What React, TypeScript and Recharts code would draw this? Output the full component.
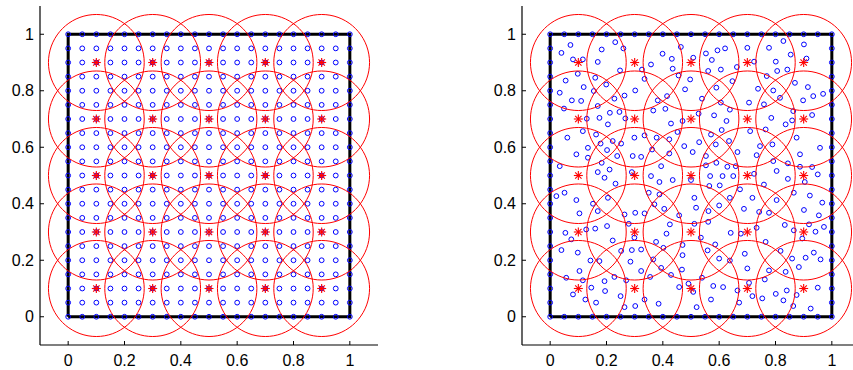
import React from 'react';
import { ScatterChart, Scatter, XAxis, YAxis } from 'recharts';

// ---------- data ----------
const tickValues = [0, 0.2, 0.4, 0.6, 0.8, 1];
const axisDomain: [number, number] = [-0.1, 1.1];
const gridCoords = [0, 0.05, 0.1, 0.15, 0.2, 0.25, 0.3, 0.35, 0.4, 0.45, 0.5, 0.55, 0.6, 0.65, 0.7, 0.75, 0.8, 0.85, 0.9, 0.95, 1];
const centerCoords = [0.1, 0.3, 0.5, 0.7, 0.9];
const coverRadius = 0.17;
const squareCorners = [
  { x: 0, y: 0 }, { x: 1, y: 0 }, { x: 1, y: 1 }, { x: 0, y: 1 }, { x: 0, y: 0 },
];

// scattered nodes of the right panel, by band
const nodesTopBand: [number, number][] = [
  [0.072, 0.962], [0.040, 0.934], [0.081, 0.911], [0.116, 0.911], [0.183, 0.946], [0.231, 0.972], [0.260, 0.950], [0.169, 0.902], [0.098, 0.860], [0.055, 0.836], [0.119, 0.813], [0.160, 0.846], [0.248, 0.872], [0.199, 0.822], [0.034, 0.793], [0.077, 0.766], [0.110, 0.764], [0.155, 0.799], [0.228, 0.772], [0.264, 0.783], [0.302, 0.801], [0.049, 0.737], [0.169, 0.746], [0.212, 0.722], [0.246, 0.725], [0.130, 0.701], [0.175, 0.704], [0.205, 0.681], [0.267, 0.702],
  [0.464, 0.955], [0.399, 0.931], [0.432, 0.913], [0.358, 0.893], [0.435, 0.878], [0.508, 0.917], [0.553, 0.932], [0.574, 0.909], [0.594, 0.943], [0.621, 0.950], [0.561, 0.870], [0.606, 0.875], [0.663, 0.884], [0.647, 0.834], [0.590, 0.811], [0.335, 0.842], [0.326, 0.875], [0.456, 0.854], [0.497, 0.840], [0.479, 0.805], [0.415, 0.781], [0.382, 0.766], [0.409, 0.736], [0.366, 0.730], [0.539, 0.772], [0.606, 0.758], [0.638, 0.733], [0.582, 0.713], [0.626, 0.693], [0.470, 0.693], [0.429, 0.684], [0.527, 0.719],
  [0.700, 0.952], [0.777, 0.952], [0.828, 0.976], [0.901, 0.964], [0.854, 0.928], [0.801, 0.903], [0.724, 0.903], [0.910, 0.914], [0.806, 0.870], [0.842, 0.875], [0.769, 0.852], [0.738, 0.807], [0.792, 0.801], [0.869, 0.828], [0.915, 0.813], [0.934, 0.781], [0.969, 0.789], [0.898, 0.766], [0.706, 0.758], [0.759, 0.752], [0.816, 0.775], [0.863, 0.728], [0.930, 0.714], [0.785, 0.704], [0.836, 0.681], [0.859, 0.695],
];
const nodesMiddleBand: [number, number][] = [
  [0.061, 0.634], [0.116, 0.657], [0.163, 0.645], [0.134, 0.598], [0.179, 0.613], [0.222, 0.622], [0.252, 0.613], [0.299, 0.634], [0.202, 0.590], [0.093, 0.575], [0.134, 0.563], [0.034, 0.533], [0.183, 0.545], [0.238, 0.569], [0.211, 0.521], [0.169, 0.512], [0.193, 0.492], [0.293, 0.569], [0.290, 0.512], [0.232, 0.471], [0.051, 0.439], [0.093, 0.413], [0.022, 0.427], [0.152, 0.400], [0.205, 0.421], [0.104, 0.366], [0.169, 0.374], [0.264, 0.362], [0.302, 0.368],
  [0.335, 0.642], [0.378, 0.634], [0.423, 0.628], [0.452, 0.654], [0.609, 0.661], [0.571, 0.645], [0.588, 0.610], [0.635, 0.622], [0.665, 0.583], [0.362, 0.592], [0.423, 0.578], [0.323, 0.566], [0.394, 0.533], [0.476, 0.604], [0.529, 0.618], [0.506, 0.583], [0.553, 0.569], [0.553, 0.536], [0.590, 0.545], [0.629, 0.531], [0.659, 0.533], [0.612, 0.498], [0.650, 0.498], [0.568, 0.498], [0.358, 0.498], [0.388, 0.477], [0.435, 0.484], [0.500, 0.484], [0.565, 0.463], [0.602, 0.465], [0.350, 0.439], [0.388, 0.433], [0.370, 0.398], [0.405, 0.382], [0.512, 0.421], [0.518, 0.386], [0.458, 0.359], [0.562, 0.374], [0.600, 0.394], [0.638, 0.421], [0.335, 0.366],
  [0.710, 0.657], [0.765, 0.663], [0.875, 0.634], [0.789, 0.610], [0.745, 0.604], [0.733, 0.572], [0.792, 0.551], [0.844, 0.543], [0.887, 0.575], [0.958, 0.598], [0.887, 0.531], [0.930, 0.530], [0.724, 0.506], [0.804, 0.516], [0.844, 0.488], [0.904, 0.477], [0.950, 0.504], [0.759, 0.468], [0.674, 0.451], [0.718, 0.421], [0.804, 0.413], [0.865, 0.439], [0.922, 0.429], [0.966, 0.404], [0.688, 0.382], [0.742, 0.371], [0.777, 0.368], [0.901, 0.378], [0.954, 0.359],
];
const nodesBottomBand: [number, number][] = [
  [0.054, 0.297], [0.075, 0.274], [0.128, 0.309], [0.160, 0.312], [0.202, 0.321], [0.279, 0.329], [0.299, 0.280], [0.222, 0.270], [0.040, 0.236], [0.098, 0.227], [0.252, 0.233], [0.290, 0.236], [0.323, 0.238], [0.143, 0.199], [0.175, 0.197], [0.285, 0.195], [0.323, 0.162], [0.104, 0.162], [0.057, 0.138], [0.116, 0.129], [0.193, 0.126], [0.228, 0.141], [0.270, 0.129], [0.081, 0.079], [0.146, 0.103], [0.195, 0.091], [0.250, 0.073], [0.125, 0.061], [0.163, 0.050], [0.264, 0.034], [0.302, 0.038],
  [0.425, 0.327], [0.512, 0.329], [0.561, 0.336], [0.413, 0.294], [0.376, 0.265], [0.402, 0.244], [0.535, 0.280], [0.586, 0.256], [0.641, 0.297], [0.470, 0.254], [0.559, 0.235], [0.470, 0.218], [0.600, 0.206], [0.638, 0.199], [0.366, 0.203], [0.394, 0.173], [0.468, 0.167], [0.429, 0.148], [0.355, 0.141], [0.539, 0.138], [0.491, 0.117], [0.458, 0.105], [0.508, 0.088], [0.579, 0.109], [0.614, 0.105], [0.665, 0.093], [0.571, 0.061], [0.335, 0.061], [0.385, 0.046], [0.520, 0.034],
  [0.677, 0.294], [0.733, 0.315], [0.833, 0.325], [0.865, 0.306], [0.919, 0.327], [0.942, 0.301], [0.972, 0.318], [0.895, 0.277], [0.765, 0.265], [0.691, 0.223], [0.818, 0.233], [0.859, 0.206], [0.907, 0.209], [0.936, 0.227], [0.960, 0.203], [0.700, 0.171], [0.777, 0.164], [0.836, 0.159], [0.883, 0.176], [0.762, 0.132], [0.706, 0.120], [0.718, 0.073], [0.753, 0.065], [0.801, 0.081], [0.840, 0.093], [0.875, 0.077], [0.950, 0.103], [0.671, 0.050], [0.828, 0.058], [0.863, 0.038], [0.925, 0.029],
];

// ---------- derived tables ----------
type Pt = { x: number; y: number };
const gridPoints: Pt[] = gridCoords.flatMap((y) => gridCoords.map((x) => ({ x, y })));
const boundaryPoints: Pt[] = gridPoints.filter((p) => p.x === 0 || p.x === 1 || p.y === 0 || p.y === 1);
const centers: Pt[] = centerCoords.flatMap((y) => centerCoords.map((x) => ({ x, y })));
const scatteredPoints: Pt[] = [...nodesTopBand, ...nodesMiddleBand, ...nodesBottomBand].map(([x, y]) => ({ x, y }));

const outlineAngles = Array.from({ length: 73 }, (_, i) => (i * 5 * Math.PI) / 180);
const circleOutline = (c: Pt): Pt[] =>
  outlineAngles.map((a) => ({ x: c.x + coverRadius * Math.cos(a), y: c.y + coverRadius * Math.sin(a) }));
const circleOutlines = centers.map(circleOutline);

// ---------- shapes ----------
const Empty = () => <g />;
const OpenCircle = (props: any) => (
  <circle cx={props.cx} cy={props.cy} r={2.4} fill="none" stroke="#0000ff" strokeWidth={1} />
);
const Asterisk = (props: any) => {
  const { cx, cy } = props;
  const d = 4.5;
  const e = 3.2;
  return (
    <g stroke="#ff0000" strokeWidth={1.1}>
      <line x1={cx - d} y1={cy} x2={cx + d} y2={cy} />
      <line x1={cx} y1={cy - d} x2={cx} y2={cy + d} />
      <line x1={cx - e} y1={cy - e} x2={cx + e} y2={cy + e} />
      <line x1={cx - e} y1={cy + e} x2={cx + e} y2={cy - e} />
    </g>
  );
};

const FONT = '"Liberation Sans", Arial, Helvetica, sans-serif';
const tickStyle = { fontSize: 16, fill: '#000', fontFamily: FONT };

function Panel({ nodes, extraNodes }: { nodes: Pt[]; extraNodes?: Pt[] }) {
  return (
    <ScatterChart width={400} height={370} margin={{ top: 6, right: 22, bottom: 0, left: 0 }}>
      <XAxis
        type="number" dataKey="x" xAxisId={0} orientation="bottom" domain={axisDomain}
        allowDataOverflow ticks={tickValues} height={25} tickSize={-4} tickMargin={14}
        axisLine={{ stroke: '#000', strokeWidth: 1.2 }} tickLine={{ stroke: '#000' }} tick={tickStyle}
        interval={0}
      />
      <XAxis
        type="number" xAxisId="top" orientation="top" domain={axisDomain} allowDataOverflow
        ticks={tickValues} height={0} tickSize={-4} axisLine={{ stroke: '#000', strokeWidth: 1.2 }}
        tickLine={{ stroke: '#000' }} tick={false} interval={0}
      />
      <YAxis
        type="number" dataKey="y" yAxisId={0} orientation="left" domain={axisDomain}
        allowDataOverflow ticks={tickValues} width={40} tickSize={-4} tickMargin={10}
        axisLine={{ stroke: '#000', strokeWidth: 1.2 }} tickLine={{ stroke: '#000' }} tick={tickStyle}
        interval={0}
      />
      <YAxis
        type="number" yAxisId="right" orientation="right" domain={axisDomain} allowDataOverflow
        ticks={tickValues} width={0} tickSize={-4} axisLine={{ stroke: '#000', strokeWidth: 1.2 }}
        tickLine={{ stroke: '#000' }} tick={false} interval={0}
      />
      <Scatter
        data={squareCorners} line={{ stroke: '#000', strokeWidth: 3 }} lineType="joint"
        shape={Empty} isAnimationActive={false}
      />
      <Scatter data={nodes} shape={OpenCircle} isAnimationActive={false} />
      {extraNodes ? <Scatter data={extraNodes} shape={OpenCircle} isAnimationActive={false} /> : null}
      {circleOutlines.map((pts, i) => (
        <Scatter
          key={i} data={pts} line={{ stroke: '#ff0000', strokeWidth: 1 }} lineType="joint"
          shape={Empty} isAnimationActive={false}
        />
      ))}
      <Scatter data={centers} shape={Asterisk} isAnimationActive={false} />
    </ScatterChart>
  );
}

export default function App() {
  return (
    <div style={{ position: 'fixed', left: 0, top: 0, width: 853, height: 370, overflow: 'hidden', background: '#fff' }}>
      <div style={{ position: 'absolute', left: 0, top: 0 }}>
        <Panel nodes={gridPoints} />
      </div>
      <div style={{ position: 'absolute', left: 482, top: 0 }}>
        <Panel nodes={scatteredPoints} extraNodes={boundaryPoints} />
      </div>
    </div>
  );
}
